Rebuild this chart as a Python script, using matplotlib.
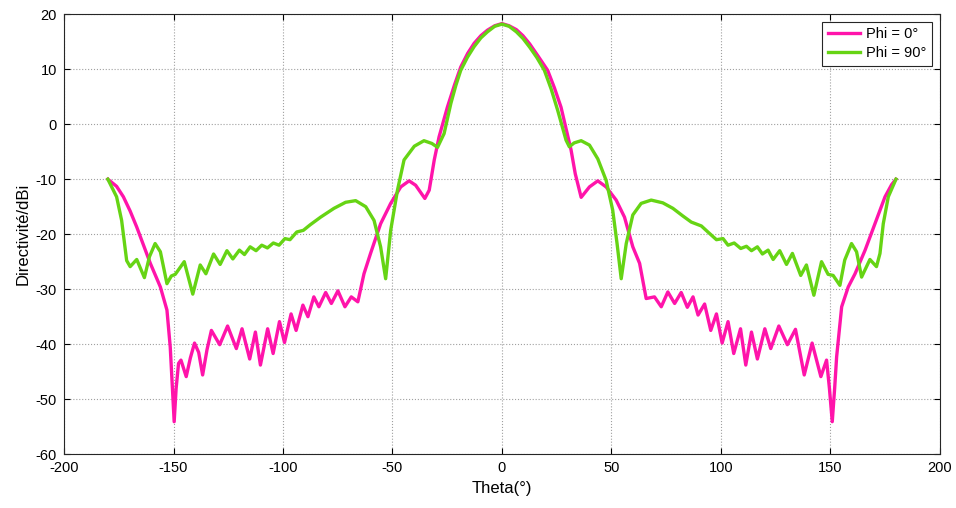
import matplotlib
matplotlib.use('Agg')
import matplotlib.pyplot as plt

# Phi = 0 deg (magenta)
theta_phi0 = [-180, -176, -172.9, -169.8, -166.8, -163.7, -160.6, -156, -153, -151.5,
              -150.5, -149.7, -148.8, -147.7, -146.6, -144.2, -142.3, -140.4, -138.5, -136.7,
              -134.7, -132.7, -128.9, -125.3, -121.3, -118.7, -115.2, -112.6, -110.3, -107,
              -104.5, -101.6, -99.3, -96.3, -94, -90.9, -88.6, -85.9, -83.6, -80.5,
              -77.9, -74.9, -71.7, -68.8, -65.8, -63, -60, -55.4, -50.8, -46.2,
              -42.4, -39.4, -35.2, -33.2, -30.9, -28.7, -24.9, -21.6, -18.8, -15.6,
              -12.7, -9.6, -6.6, -3.3, 0, 3.3, 6.6, 9.6, 12.7, 16.5,
              20.9, 24, 27, 31.6, 33.5, 36.2, 40, 43.8,
              47.6, 52.2, 56, 59.8, 62.9, 65.9, 69.7, 72.8, 75.8, 78.9,
              81.9, 84.7, 87.3, 89.6, 92.6, 95.4, 98, 100.6, 103.3, 105.9,
              109, 111.4, 114, 116.7, 120.1, 122.8, 126.5, 130.4, 134.1, 138.1,
              141.7, 145.7, 148.3, 149.6, 150.9, 152, 152.9, 155.2, 158.2, 161.3,
              165.9, 170.4, 175, 178, 180]
d_phi0 = [-10, -11.3, -13.2, -15.8, -18.7, -22, -25.3, -29.6, -33.8, -40.5,
          -48, -54.1, -48, -43.5, -42.9, -45.9, -42.5, -39.8, -41.5, -45.6,
          -41, -37.5, -40.1, -36.7, -40.8, -37.2, -42.7, -37.8, -43.8, -37.2,
          -41.7, -35.9, -39.7, -34.5, -37.5, -32.9, -35, -31.4, -33.2, -30.6,
          -32.6, -30.3, -33.2, -31.4, -32.3, -27.2, -23.5, -18.1, -14.4, -11.4,
          -10.3, -11.1, -13.5, -12, -6.5, -2.3, 3.1, 7.2, 10.4, 12.9,
          14.7, 16.1, 17.1, 17.9, 18.3, 17.9, 17.2, 16.1, 14.6, 12.4,
          9.8, 6.6, 3.1, -4.7, -9, -13.3, -11.4, -10.3,
          -11.4, -13.8, -16.9, -22.3, -25.3, -31.7, -31.4, -33.2, -30.5, -32.6,
          -30.6, -33.3, -31.4, -34.7, -32.7, -37.5, -34.5, -39.8, -35.9, -41.7,
          -37.2, -43.8, -37.8, -42.7, -37.2, -40.8, -36.7, -40.1, -37.3, -45.6,
          -39.8, -45.9, -42.9, -48, -54.1, -48, -42.3, -33.2, -29.6, -27.2,
          -22.9, -18.1, -13.2, -11, -10]

# Phi = 90 deg (green)
theta_phi90 = [-180, -176, -173.7, -171.4, -169.8, -166.8, -163.3, -161, -158.4, -156,
               -153, -151, -149.2, -145.1, -141.2, -137.8, -135.2, -131.7, -128.7, -125.6,
               -122.9, -119.9, -117.6, -115, -112.3, -109.7, -107.1, -104.4, -101.8, -99.1,
               -96.8, -93.7, -90.7, -87.6, -82.8, -76.7, -71.4, -66.8, -62.2, -58.4,
               -55.4, -53.1, -50.8, -47.7, -44.7, -40, -35.6, -32, -29.4, -26.4,
               -23.3, -21, -18.8, -15.7, -12.7, -9.6, -6.6, -3.3, 0, 3.3,
               6.6, 9.6, 12.7, 16, 19.4, 22.5, 25.5, 29.3,
               30.8, 33, 36.2, 40, 43.8, 47.6, 50.6, 52.6, 54.5, 56.8,
               59.8, 63.6, 68.2, 73.5, 78.1, 82.7, 86.5, 91.1, 94.1, 98,
               101, 103.3, 106.1, 109.1, 111.7, 114, 116.7, 119, 121.6, 123.9,
               126.9, 130, 132.7, 136.5, 139.1, 142.5, 146, 149, 151.3, 154.4,
               156.6, 159.7, 162, 164.3, 168.1, 171.1, 172.7, 174.2, 176.5, 180]
d_phi90 = [-10, -13.2, -17.5, -24.8, -25.9, -24.6, -27.9, -24.1, -21.7, -23.2,
           -29, -27.6, -27.3, -25, -30.9, -25.6, -27.2, -23.6, -25.5, -23,
           -24.5, -22.9, -23.7, -22.3, -23, -22, -22.5, -21.6, -22, -20.8,
           -21, -19.6, -19.3, -18.3, -16.9, -15.3, -14.2, -13.9, -15, -17.5,
           -22.3, -28.1, -19.3, -12, -6.5, -4, -3, -3.5, -4.2, -1.7,
           3.8, 7.1, 9.8, 12.2, 14.1, 15.7, 16.8, 17.8, 18.2, 17.8,
           16.8, 15.6, 14, 12.1, 9.8, 6.4, 2.5, -2.9,
           -4.1, -3.4, -3, -3.8, -6.3, -10.2, -15.6, -21.7, -28.1, -21.7,
           -16.5, -14.4, -13.8, -14.3, -15.3, -16.7, -17.8, -18.5, -19.6, -21,
           -20.8, -22, -21.6, -22.6, -22.2, -23, -22.3, -23.6, -22.9, -24.6,
           -23, -25.5, -23.5, -27.5, -25.6, -31.1, -25, -27.3, -27.5, -29.3,
           -24.7, -21.7, -23.2, -27.8, -24.6, -25.9, -23.5, -18.1, -13.2, -10]

plt.rcParams['font.family'] = ['Liberation Sans', 'DejaVu Sans']
plt.rcParams['axes.unicode_minus'] = False

fig = plt.figure(figsize=(9.56, 5.08), dpi=100)
ax = fig.add_axes([0.067, 0.106, 0.916, 0.866])

ax.plot(theta_phi0, d_phi0, color='#ff14aa', linewidth=2.4, label='Phi = 0°')
ax.plot(theta_phi90, d_phi90, color='#66d414', linewidth=2.4, label='Phi = 90°')

ax.set_xlim(-200, 200)
ax.set_ylim(-60, 20)
ax.set_xticks(range(-200, 201, 50))
ax.set_yticks(range(-60, 21, 10))
ax.grid(True, linestyle=':', color='#a0a0a0', linewidth=0.8)
ax.tick_params(direction='in', top=True, right=True, labelsize=10.5, length=4)
ax.tick_params(axis='x', pad=5)
ax.tick_params(axis='y', pad=5)
for s in ax.spines.values():
    s.set_linewidth(0.8)
    s.set_color('#262626')

ax.set_xlabel('Theta(°)', fontsize=12)
ax.set_ylabel('Directivité/dBi', fontsize=12)

leg = ax.legend(loc='upper right', fontsize=10.5, fancybox=False, framealpha=1,
                edgecolor='#262626', handlelength=2.2, borderpad=0.4,
                labelspacing=0.3, handletextpad=0.4)
leg.get_frame().set_linewidth(0.8)

plt.savefig('out.png', dpi=100)
